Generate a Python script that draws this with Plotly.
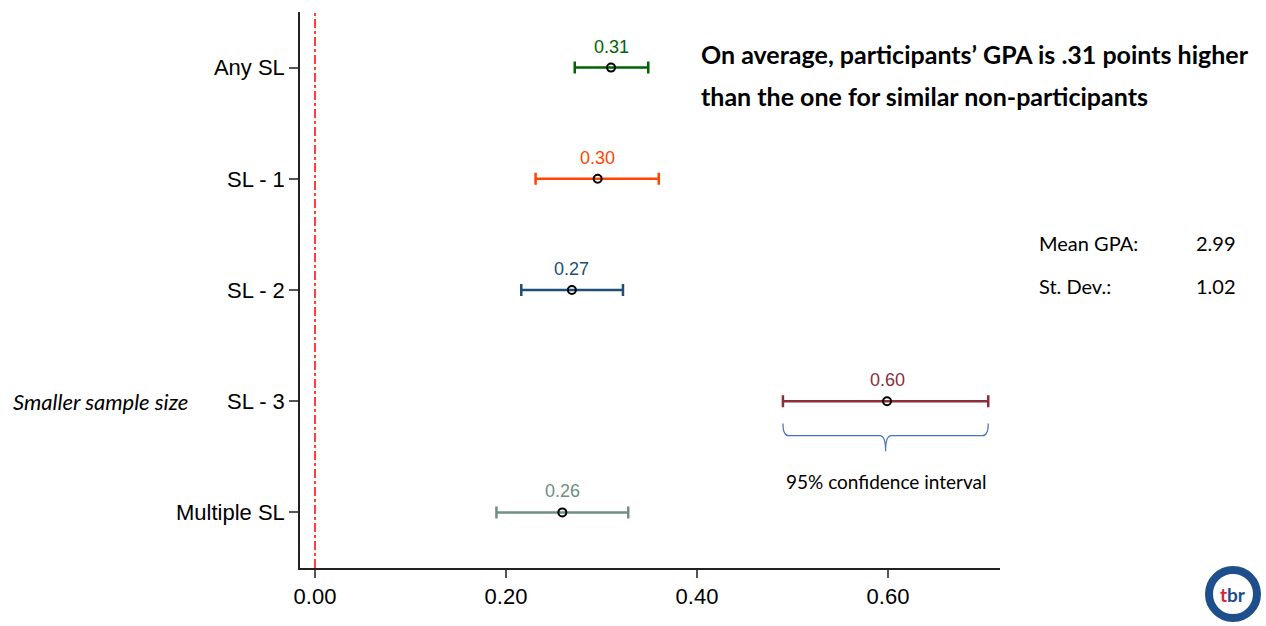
import plotly.graph_objects as go

categories = ["Any SL", "SL - 1", "SL - 2", "SL - 3", "Multiple SL"]
estimates = [0.310, 0.296, 0.269, 0.599, 0.259]
ci_low = [0.272, 0.231, 0.216, 0.490, 0.190]
ci_high = [0.349, 0.360, 0.3225, 0.705, 0.328]
colors = ["#006400", "#FF4500", "#1F4E79", "#8B2E3A", "#6F8F80"]
x_ticks = [0.0, 0.2, 0.4, 0.6]

fig = go.Figure()
positions = list(range(1, len(categories) + 1))
for i, cat in enumerate(categories):
    fig.add_trace(go.Scatter(
        x=[estimates[i]], y=[positions[i]], mode="markers",
        marker=dict(symbol="circle-open", size=8, color="black", line=dict(width=2, color="black")),
        error_x=dict(type="data", symmetric=False,
                     array=[ci_high[i] - estimates[i]], arrayminus=[estimates[i] - ci_low[i]],
                     color=colors[i], thickness=2.5, width=6),
        showlegend=False, hoverinfo="skip"))
    fig.add_annotation(x=estimates[i], y=positions[i], text=f"{estimates[i]:.2f}",
                       showarrow=False, yshift=21, font=dict(family="Liberation Sans, Arial", size=18, color=colors[i]))

# reference line at zero
fig.add_shape(type="line", xref="x", yref="paper", x0=0, x1=0, y0=0, y1=1,
              line=dict(color="red", width=1.5, dash="dashdot"))

# brace under SL-3 CI
i3 = 3
x0, x1 = ci_low[i3], ci_high[i3]
xc = (x0 + x1) / 2
yb0, yb1, yb2 = positions[i3] + 0.2, positions[i3] + 0.31, positions[i3] + 0.45
d = 0.006
path = (f"M {x0},{yb0} Q {x0},{yb1} {x0+d},{yb1} L {xc-d},{yb1} Q {xc},{yb1} {xc},{yb2} "
        f"Q {xc},{yb1} {xc+d},{yb1} L {x1-d},{yb1} Q {x1},{yb1} {x1},{yb0}")
fig.add_shape(type="path", xref="x", yref="y", path=path, line=dict(color="#4472C4", width=1.2))
fig.add_annotation(x=xc, y=positions[i3] + 0.72, xref="x", yref="y", text="95% confidence interval",
                   showarrow=False, font=dict(family="Lato, Open Sans", size=19, color="black"))

# Smaller sample size
fig.add_annotation(x=0, xref="paper", xanchor="right", xshift=-110, y=positions[i3], yref="y",
                   text="<i>Smaller sample size</i>", showarrow=False,
                   font=dict(family="Lato, Open Sans", size=22, color="black"))


def px(xp):
    return (xp - 300) / 700


def py(yp):
    return 1 - (yp - 12) / 556


# headline
fig.add_annotation(xref="paper", yref="paper", x=px(699), y=py(54),
                   xanchor="left", yanchor="middle",
                   text="<b>On average, participants’ GPA is .31 points higher</b>",
                   showarrow=False, font=dict(family="Lato, Open Sans", size=25, color="black"))
fig.add_annotation(xref="paper", yref="paper", x=px(699), y=py(96),
                   xanchor="left", yanchor="middle",
                   text="<b>than the one for similar non-participants</b>",
                   showarrow=False, font=dict(family="Lato, Open Sans", size=25, color="black"))

# stats box
stat_labels = ["Mean GPA:", "St. Dev.:"]
stat_values = ["2.99", "1.02"]
stat_y = [243, 286]
for lab, val, yy in zip(stat_labels, stat_values, stat_y):
    fig.add_annotation(xref="paper", yref="paper", x=px(1037), y=py(yy),
                       xanchor="left", yanchor="middle", text=lab, showarrow=False,
                       font=dict(family="Lato, Open Sans", size=20, color="black"))
    fig.add_annotation(xref="paper", yref="paper", x=px(1238), y=py(yy),
                       xanchor="right", yanchor="middle", text=val, showarrow=False,
                       font=dict(family="Lato, Open Sans", size=20, color="black"))

# logo approximation
cx, cy, r = 1233, 594, 24
fig.add_shape(type="circle", xref="paper", yref="paper", layer="below",
              x0=px(cx - r), x1=px(cx + r), y0=py(cy + r), y1=py(cy - r),
              fillcolor="white", line=dict(color="#1F4E8C", width=8))
fig.add_annotation(xref="paper", yref="paper", x=px(cx), y=py(cy), xanchor="center", yanchor="middle",
                   text="<b><span style='color:#D7263D'>t</span>br</b>", showarrow=False,
                   font=dict(family="Lato, Open Sans", size=19, color="#1F4E8C"))

fig.update_layout(
    width=1266, height=626,
    margin=dict(l=300, r=266, t=12, b=58),
    plot_bgcolor="white", paper_bgcolor="white",
    xaxis=dict(range=[-0.0157, 0.7173], tickvals=x_ticks, tickformat=".2f",
               showgrid=False, zeroline=False, showline=True, linecolor="#222", linewidth=1.5,
               ticks="outside", ticklen=8, tickcolor="#555", tickwidth=1.5,
               tickfont=dict(family="Liberation Sans, Arial", size=22, color="black")),
    yaxis=dict(range=[5.5, 0.5], tickvals=positions, ticktext=categories,
               showgrid=False, zeroline=False, showline=True, linecolor="#222", linewidth=1.5,
               ticks="outside", ticklen=9, tickcolor="#555", tickwidth=1.5,
               tickfont=dict(family="Liberation Sans, Arial", size=22, color="black")),
)

fig.write_html("out.html")
